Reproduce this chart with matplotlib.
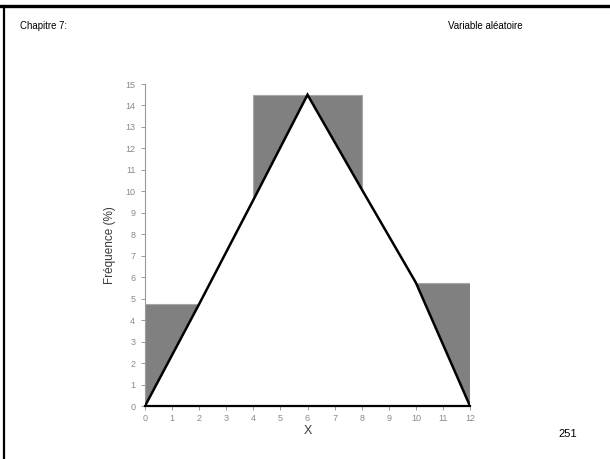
import matplotlib
matplotlib.use("Agg")
import matplotlib.pyplot as plt
from matplotlib.lines import Line2D

plt.rcParams['font.family'] = ['Liberation Sans', 'DejaVu Sans']

# Histogram bins (left edge, width) and frequencies (%)
bin_lefts = [0, 4, 10]
bin_widths = [2, 4, 2]
bin_heights = [4.75, 14.5, 5.75]

# Frequency polygon vertices
poly_x = [0, 2, 4, 6, 8, 10, 12]
poly_y = [0, 4.75, 9.6, 14.5, 10.1, 5.75, 0]

x_ticks = list(range(0, 13))
y_ticks = list(range(0, 16))

fig = plt.figure(figsize=(6.10, 4.59), dpi=100)
ax = fig.add_axes([145/610, 1-406/459, 325/610, 322/459])

ax.bar(bin_lefts, bin_heights, width=bin_widths, align='edge',
       color='#808080', edgecolor='#a8a8a8', linewidth=0.8, zorder=2)
ax.fill(poly_x, poly_y, color='white', zorder=3)
ax.plot(poly_x, poly_y, color='black', linewidth=1.8, zorder=4,
        solid_joinstyle='miter')

ax.set_xlim(0, 12)
ax.set_ylim(0, 15)
ax.set_xticks(x_ticks)
ax.set_yticks(y_ticks)
for s in ['top', 'right']:
    ax.spines[s].set_visible(False)
ax.spines['left'].set_color('#9a9a9a')
ax.spines['left'].set_linewidth(0.8)
ax.spines['bottom'].set_color('black')
ax.spines['bottom'].set_linewidth(1.6)
ax.spines['bottom'].set_zorder(5)
ax.tick_params(axis='both', colors='#9a9a9a', labelcolor='#8a8a8a',
               labelsize=6.5, length=3, width=0.7)
ax.tick_params(axis='y', pad=4)
ax.tick_params(axis='x', pad=3)

ax.set_xlabel('X', fontsize=9, color='#404040', labelpad=1)
ax.set_ylabel('Fréquence (%)', fontsize=8.5, color='#3a3a3a', labelpad=7)

# Page frame and running headers
fig.add_artist(Line2D([0, 1], [1-6.3/459, 1-6.3/459], transform=fig.transFigure,
                      color='black', linewidth=2.4))
fig.add_artist(Line2D([4.3/610, 4.3/610], [0, 1-6.3/459], transform=fig.transFigure,
                      color='black', linewidth=1.6))
fig.text(20.5/610, 1-26/459, 'Chapitre 7:', fontsize=6.9, va='center', ha='left')
fig.text(448/610, 1-26/459, 'Variable aléatoire', fontsize=7, va='center', ha='left')
fig.text(567.5/610, 1-434/459, '251', fontsize=8, va='center', ha='center')

fig.savefig('out.png', dpi=100)
